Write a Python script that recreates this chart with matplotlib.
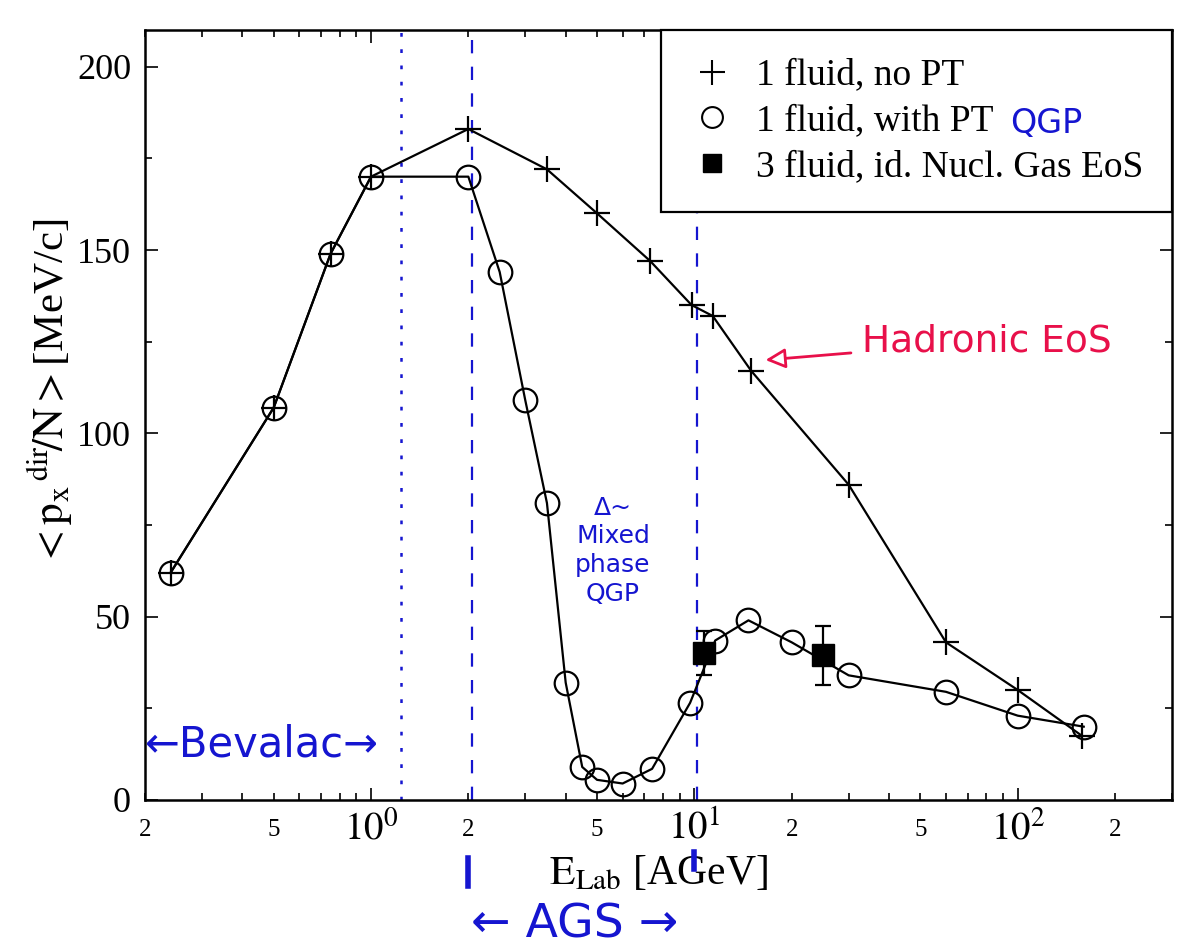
import matplotlib
matplotlib.use('Agg')
import matplotlib.pyplot as plt
import matplotlib.transforms as mtransforms
from matplotlib.lines import Line2D
from matplotlib.ticker import FixedLocator, FuncFormatter

plt.rcParams['font.family'] = ['Liberation Serif', 'DejaVu Serif']
plt.rcParams['mathtext.fontset'] = 'stix'

# ---------------- data ----------------
e_nopt = [0.24, 0.5, 0.75, 1.0, 2.0, 3.5, 5.0, 7.3, 9.8, 11.4, 15.0, 30.0, 60.0, 100.0, 158.0]
px_nopt = [62, 107, 149, 170, 183, 172, 160, 147, 135, 132, 117, 86, 43, 30, 17.5]

e_pt = [0.24, 0.5, 0.75, 1.0, 2.0, 2.5, 3.0, 3.5, 4.0, 4.5, 5.0, 6.0, 7.4, 9.7,
        11.6, 14.7, 20.0, 30.0, 60.0, 100.0, 160.0]
px_pt = [62, 107, 149, 170, 170, 144, 109, 81, 32, 9, 5.5, 4.5, 8.5, 26.5,
         43.5, 49, 43, 34, 29.5, 23, 20]

e_3f = [10.7, 25.0]
px_3f = [40, 39.5]
err_3f = [6, 8]

bevalac_edge = 1.24
ags_edges = [2.05, 10.2]
ags_marks = [2.0, 10.0]

legend_labels = ['1 fluid, no PT', '1 fluid, with PT', '3 fluid, id. Nucl. Gas EoS']
x_major = [1, 10, 100]
x_major_labels = [r'$10^{0}$', r'$10^{1}$', r'$10^{2}$']
x_minor_labeled = [0.2, 0.5, 2, 5, 20, 50, 200]
y_ticks = [0, 50, 100, 150, 200]

BLUE = '#1515d0'
RED = '#e8104a'
HAND = ['DejaVu Sans']

W, H = 1189, 947

# ---------------- figure ----------------
fig = plt.figure(figsize=(W / 100, H / 100), dpi=100)
ax = fig.add_axes([145 / W, 1 - 800 / H, (1172 - 145) / W, (800 - 30) / H])

ax.set_xscale('log')
ax.set_xlim(0.2, 300)
ax.set_ylim(0, 210)

# vertical region lines
ax.axvline(bevalac_edge, color=BLUE, ls=(0, (1.5, 5)), lw=1.8, zorder=1)
ax.axvline(ags_edges[0], color=BLUE, ls=(0, (6, 6)), lw=1.6, zorder=1)
ax.axvline(ags_edges[1], ymax=0.77, color=BLUE, ls=(0, (6, 6)), lw=1.6, zorder=1)

# series
ax.plot(e_nopt, px_nopt, color='k', lw=1.6, marker='+', ms=19, mew=1.6, zorder=3)
ax.plot(e_pt, px_pt, color='k', lw=1.6, marker='o', ms=17, mfc='none', mew=1.6, zorder=3)
ax.errorbar(e_3f, px_3f, yerr=err_3f, fmt='s', color='k', ms=16, ecolor='k',
            elinewidth=1.6, capsize=6, capthick=1.6, zorder=4)

# ticks
ax.xaxis.set_major_locator(FixedLocator(x_major))
ax.xaxis.set_major_formatter(FuncFormatter(
    lambda v, p: x_major_labels[x_major.index(round(v))] if round(v) in x_major else ''))
minor_all = [m * 10.0 ** d for d in (-1, 0, 1, 2) for m in range(2, 10)]
ax.xaxis.set_minor_locator(FixedLocator([v for v in minor_all if 0.2 <= v <= 300]))


def minor_fmt(v, p):
    for t in x_minor_labeled:
        if abs(v - t) < 1e-6 * t:
            return str(int(round(v / 10 ** int(f'{v:e}'.split('e')[1]))))
    return ''


ax.xaxis.set_minor_formatter(FuncFormatter(minor_fmt))
ax.set_yticks(y_ticks)
ax.set_yticks([25, 75, 125, 175], minor=True)

ax.tick_params(which='both', direction='in', top=True, right=True, width=1.2)
ax.tick_params(which='major', length=9, pad=10)
ax.tick_params(axis='y', which='major', labelsize=26)
ax.tick_params(axis='x', which='major', labelsize=28, pad=8)
ax.tick_params(which='minor', length=5)
ax.tick_params(axis='x', which='minor', labelsize=18, pad=14)
for s in ax.spines.values():
    s.set_linewidth(1.8)

ax.set_xlabel(r'$\mathrm{E_{Lab}}$ [AGeV]', fontsize=30, labelpad=4)
ax.set_ylabel(r'$<\mathrm{p_x}^{\,\mathrm{dir}}\!/\mathrm{N}>$[MeV/c]', fontsize=31)
ax.yaxis.set_label_coords(-0.068, 0.53)

# legend
h1 = Line2D([], [], ls='none', marker='+', ms=18, mew=1.5, color='k')
h2 = Line2D([], [], ls='none', marker='o', ms=15, mfc='none', mew=1.5, color='k')
h3 = Line2D([], [], ls='none', marker='s', ms=13, color='k')
leg = ax.legend([h1, h2, h3], legend_labels, loc='upper right', fontsize=27,
                frameon=True, fancybox=False, framealpha=1, edgecolor='k',
                borderaxespad=0, borderpad=0.75, labelspacing=0.3,
                handlelength=1.2, handletextpad=0.6)
leg.get_frame().set_linewidth(1.6)

# handwritten annotations
fig.canvas.draw()
tb = leg.get_texts()[1].get_window_extent()
fig.text((tb.x1 + 16) / W, (tb.y0 + tb.y1) / 2 / H - 0.003, 'QGP', color=BLUE,
         fontsize=24, family=HAND, ha='left', va='center', zorder=10)

ax.text(0.0, 0.072, '\u2190Bevalac\u2192', transform=ax.transAxes, color=BLUE,
        fontsize=30, family=HAND, ha='left', va='center')
ax.text(5.6, 68, '\u0394~\nMixed\nphase\nQGP', color=BLUE, fontsize=18, family=HAND,
        ha='center', va='center', linespacing=1.25)
ax.annotate('Hadronic EoS', xy=(16.6, 120), xytext=(33, 125), color=RED,
            fontsize=27, family=HAND, ha='left', va='center',
            arrowprops=dict(arrowstyle='-|>', fc='white', ec=RED, lw=2,
                            mutation_scale=30, shrinkA=6, shrinkB=0))
ax.text(0.418, -0.162, '\u2190 AGS \u2192', transform=ax.transAxes, color=BLUE,
        fontsize=34, family=HAND, ha='center', va='center')
blend = mtransforms.blended_transform_factory(ax.transData, ax.transAxes)
ax.plot([ags_marks[0]] * 2, [-0.075, -0.112], transform=blend, color=BLUE, lw=4, clip_on=False)
ax.plot([ags_marks[1]] * 2, [-0.068, -0.09], transform=blend, color=BLUE, lw=4, clip_on=False)

fig.savefig('out.png', dpi=100)
